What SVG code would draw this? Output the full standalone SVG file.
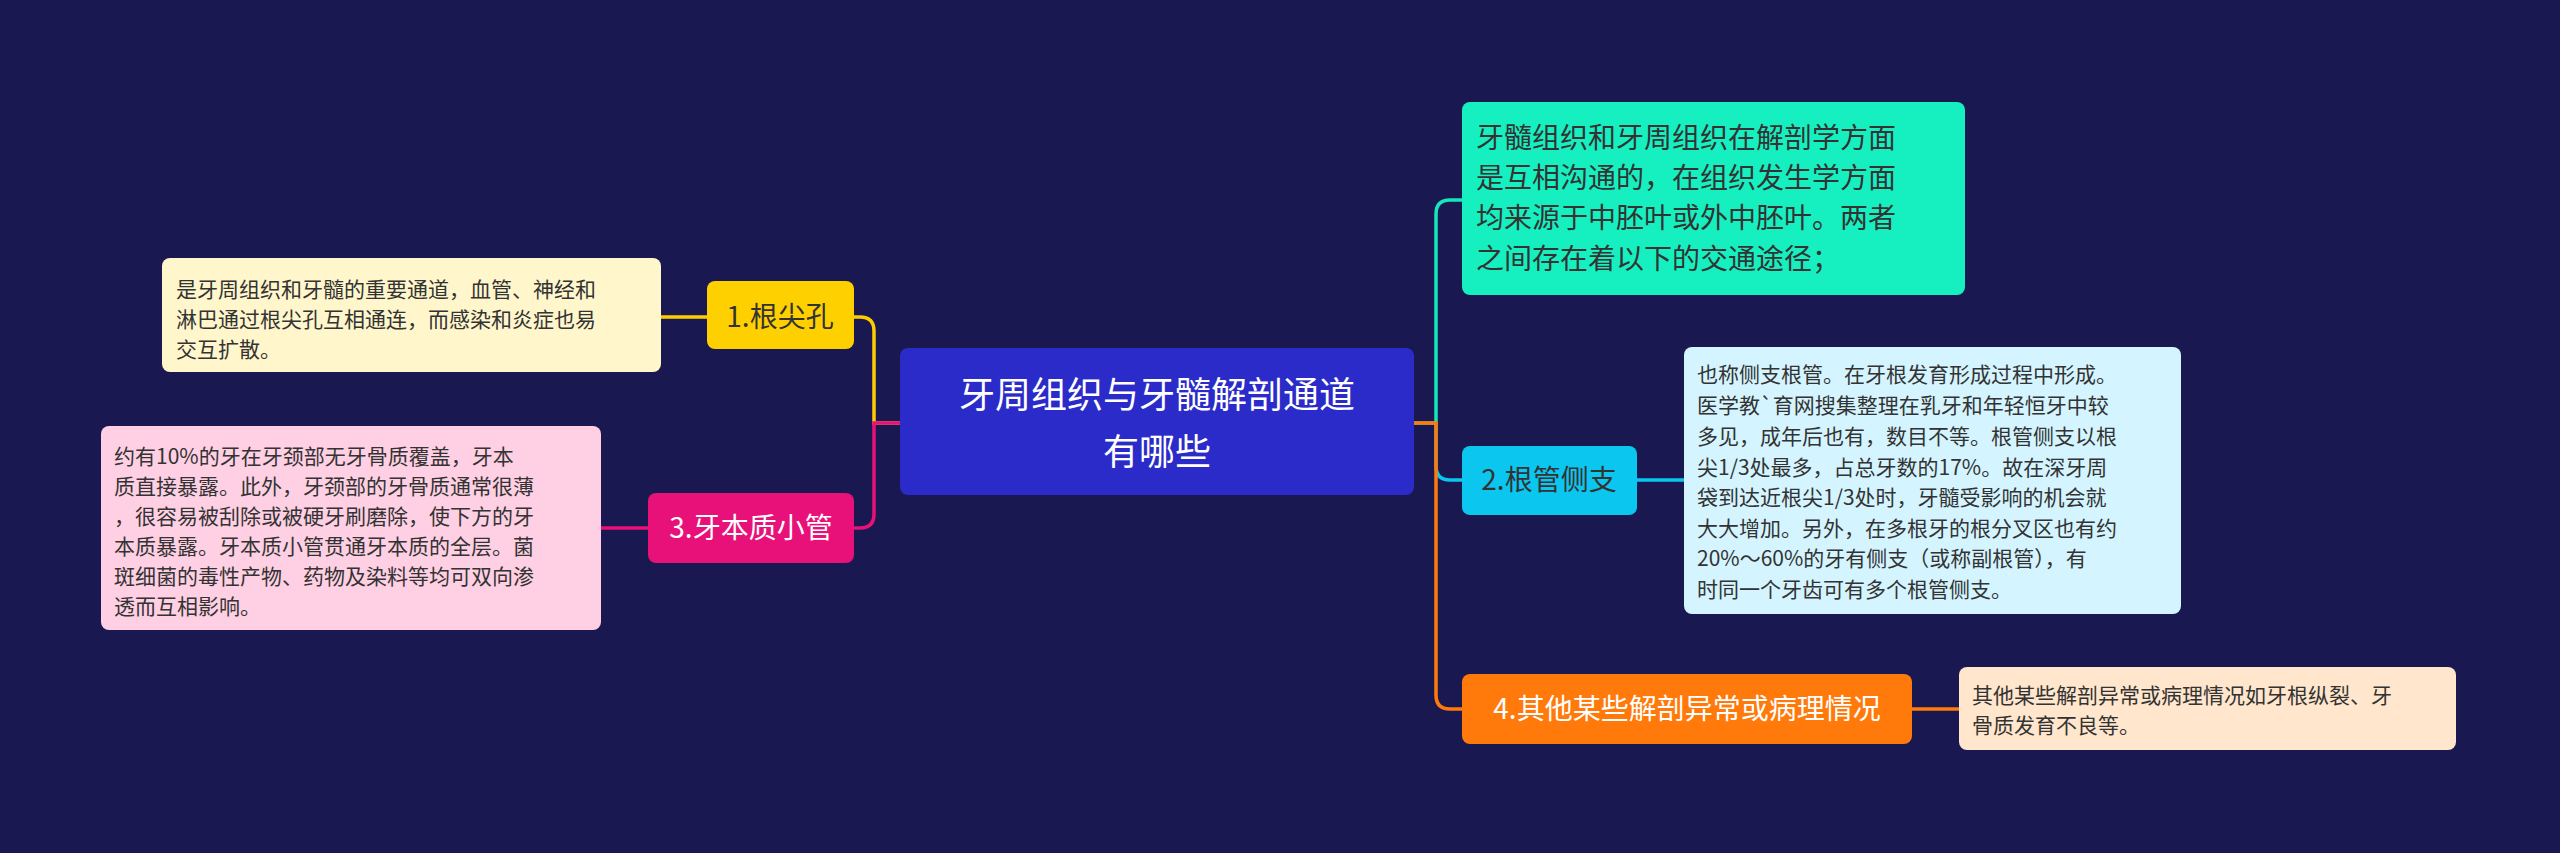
<svg xmlns="http://www.w3.org/2000/svg" width="2560" height="853" viewBox="0 0 2560 853">
<style>
text{font-family:"Noto Sans CJK SC","Noto Sans",sans-serif;}
.s{font-size:21px;fill:#333;}
.m{font-size:28px;}
.c{fill:none;stroke-width:3.5;}
</style>
<rect width="2560" height="853" fill="#1a1850"/>
<g id="connectors">
<path class="c" stroke="#ffcc00" d="M900 423 H874 V331 Q874 317 860 317 H854"/>
<path class="c" stroke="#e8117a" d="M900 423 H874 V514 Q874 528 860 528 H854"/>
<path class="c" stroke="#16e6bc" d="M1414 423 H1436 V214 Q1436 200 1450 200 H1462"/>
<path class="c" stroke="#0bc6ef" d="M1436 423 V466 Q1436 480 1450 480 H1462"/>
<path class="c" stroke="#ff7a0a" d="M1414 423 H1436 V695 Q1436 709 1450 709 H1462"/>
<path class="c" stroke="#ffcc00" d="M707 317 H661"/>
<path class="c" stroke="#e8117a" d="M648 528 H601"/>
<path class="c" stroke="#0bc6ef" d="M1637 480 H1684"/>
<path class="c" stroke="#ff7a0a" d="M1912 709 H1959"/>
</g>
<g id="center"><rect x="900" y="348" width="514" height="147" rx="8" fill="#2a2bc8"/>
<text x="1157" y="408" font-size="36" fill="#fff" text-anchor="middle">牙周组织与牙髓解剖通道</text>
<text x="1157" y="465" font-size="36" fill="#fff" text-anchor="middle">有哪些</text></g>
<g id="n1"><rect x="707" y="281" width="147" height="68" rx="8" fill="#ffd000"/>
<text x="780" y="327" class="m" fill="#333" text-anchor="middle">1.根尖孔</text></g>
<g id="l1"><rect x="162" y="258" width="499" height="114" rx="8" fill="#fff6cc"/>
<text class="s" x="176"><tspan y="297">是牙周组织和牙髓的重要通道，血管、神经和</tspan><tspan x="176" y="327">淋巴通过根尖孔互相通连，而感染和炎症也易</tspan><tspan x="176" y="357">交互扩散。</tspan></text></g>
<g id="n3"><rect x="648" y="493" width="206" height="70" rx="8" fill="#e8117a"/>
<text x="751" y="538" class="m" fill="#fff" text-anchor="middle">3.牙本质小管</text></g>
<g id="l3"><rect x="101" y="426" width="500" height="204" rx="8" fill="#ffd0e4"/>
<text class="s" x="114"><tspan y="464">约有10%的牙在牙颈部无牙骨质覆盖，牙本</tspan><tspan x="114" y="494">质直接暴露。此外，牙颈部的牙骨质通常很薄</tspan><tspan x="114" y="524">，很容易被刮除或被硬牙刷磨除，使下方的牙</tspan><tspan x="114" y="554">本质暴露。牙本质小管贯通牙本质的全层。菌</tspan><tspan x="114" y="584">斑细菌的毒性产物、药物及染料等均可双向渗</tspan><tspan x="114" y="614">透而互相影响。</tspan></text></g>
<g id="top"><rect x="1462" y="102" width="503" height="193" rx="8" fill="#16f0c0"/>
<text class="m" fill="#333" x="1476"><tspan y="148">牙髓组织和牙周组织在解剖学方面</tspan><tspan x="1476" y="188">是互相沟通的，在组织发生学方面</tspan><tspan x="1476" y="228">均来源于中胚叶或外中胚叶。两者</tspan><tspan x="1476" y="269">之间存在着以下的交通途径；</tspan></text></g>
<g id="n2"><rect x="1462" y="446" width="175" height="69" rx="8" fill="#0bc6ef"/>
<text x="1549" y="490" class="m" fill="#333" text-anchor="middle">2.根管侧支</text></g>
<g id="l2"><rect x="1684" y="347" width="497" height="267" rx="8" fill="#d4f5ff"/>
<text class="s" x="1697"><tspan y="382">也称侧支根管。在牙根发育形成过程中形成。</tspan><tspan x="1697" y="413">医学教`育网搜集整理在乳牙和年轻恒牙中较</tspan><tspan x="1697" y="444">多见，成年后也有，数目不等。根管侧支以根</tspan><tspan x="1697" y="475">尖1/3处最多，占总牙数的17%。故在深牙周</tspan><tspan x="1697" y="505">袋到达近根尖1/3处时，牙髓受影响的机会就</tspan><tspan x="1697" y="536">大大增加。另外，在多根牙的根分叉区也有约</tspan><tspan x="1697" y="566">20%～60%的牙有侧支（或称副根管），有</tspan><tspan x="1697" y="597">时同一个牙齿可有多个根管侧支。</tspan></text></g>
<g id="n4"><rect x="1462" y="674" width="450" height="70" rx="8" fill="#ff7a0a"/>
<text x="1687" y="719" class="m" fill="#fff" text-anchor="middle">4.其他某些解剖异常或病理情况</text></g>
<g id="l4"><rect x="1959" y="667" width="497" height="83" rx="8" fill="#ffe6cc"/>
<text class="s" x="1972"><tspan y="703">其他某些解剖异常或病理情况如牙根纵裂、牙</tspan><tspan x="1972" y="733">骨质发育不良等。</tspan></text></g>
</svg>
